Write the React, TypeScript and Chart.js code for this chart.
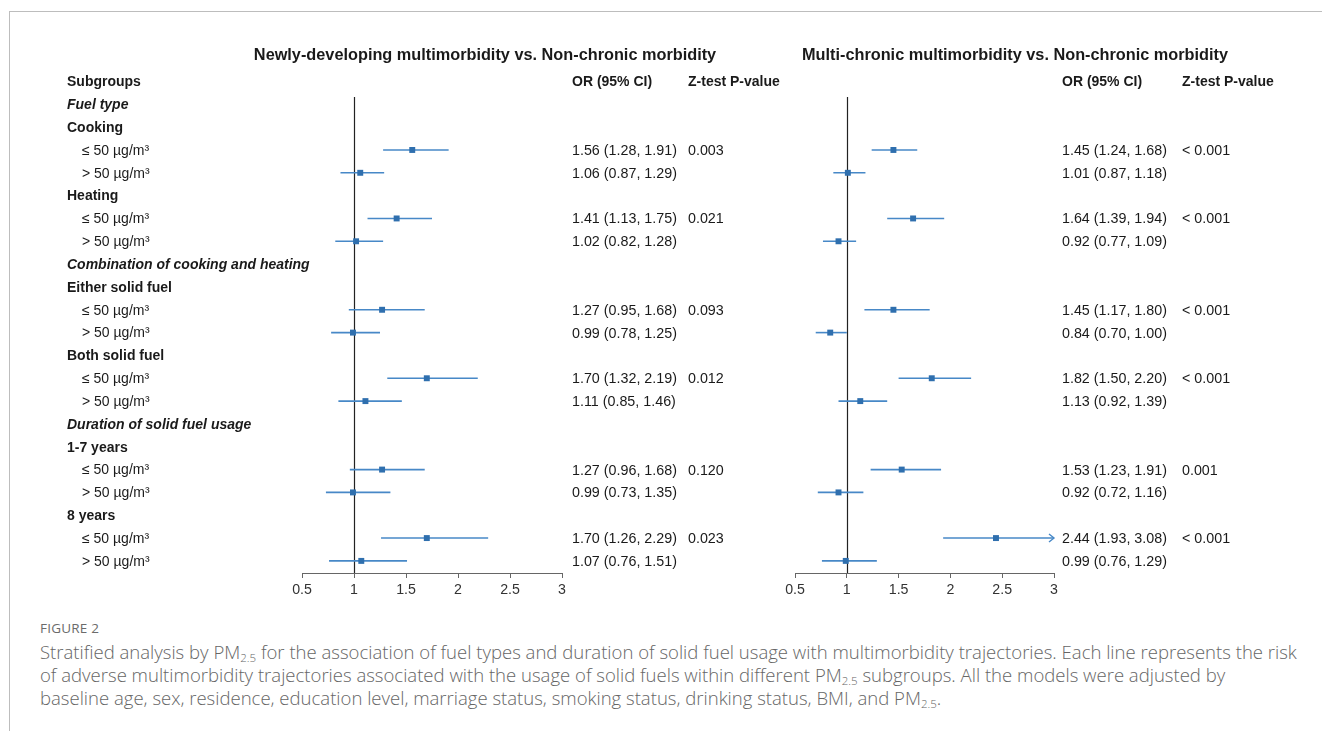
import React, { useEffect, useRef } from 'react';
import { Chart, registerables } from 'chart.js';
Chart.register(...registerables);

// ---------------- DATA ----------------
const rowLabels = [
  'Fuel type', 'Cooking', '≤ 50 µg/m³', '> 50 µg/m³',
  'Heating', '≤ 50 µg/m³', '> 50 µg/m³',
  'Combination of cooking and heating', 'Either solid fuel', '≤ 50 µg/m³', '> 50 µg/m³',
  'Both solid fuel', '≤ 50 µg/m³', '> 50 µg/m³',
  'Duration of solid fuel usage', '1-7 years', '≤ 50 µg/m³', '> 50 µg/m³',
  '8 years', '≤ 50 µg/m³', '> 50 µg/m³',
];
const rowKinds = [
  'section', 'group', 'sub', 'sub',
  'group', 'sub', 'sub',
  'section', 'group', 'sub', 'sub',
  'group', 'sub', 'sub',
  'section', 'group', 'sub', 'sub',
  'group', 'sub', 'sub',
];
// row index (1-based, header row = 0) of each estimate
const estimateRows = [3, 4, 6, 7, 10, 11, 13, 14, 17, 18, 20, 21];

const newlyOR = [1.56, 1.06, 1.41, 1.02, 1.27, 0.99, 1.70, 1.11, 1.27, 0.99, 1.70, 1.07];
const newlyLo = [1.28, 0.87, 1.13, 0.82, 0.95, 0.78, 1.32, 0.85, 0.96, 0.73, 1.26, 0.76];
const newlyHi = [1.91, 1.29, 1.75, 1.28, 1.68, 1.25, 2.19, 1.46, 1.68, 1.35, 2.29, 1.51];
const newlyP = ['0.003', '', '0.021', '', '0.093', '', '0.012', '', '0.120', '', '0.023', ''];

const multiOR = [1.45, 1.01, 1.64, 0.92, 1.45, 0.84, 1.82, 1.13, 1.53, 0.92, 2.44, 0.99];
const multiLo = [1.24, 0.87, 1.39, 0.77, 1.17, 0.70, 1.50, 0.92, 1.23, 0.72, 1.93, 0.76];
const multiHi = [1.68, 1.18, 1.94, 1.09, 1.80, 1.00, 2.20, 1.39, 1.91, 1.16, 3.08, 1.29];
const multiP = ['< 0.001', '', '< 0.001', '', '< 0.001', '', '< 0.001', '', '0.001', '', '< 0.001', ''];

const xTicks = [0.5, 1, 1.5, 2, 2.5, 3];
const xMin = 0.5;
const xMax = 3;

const titleNewly = 'Newly-developing multimorbidity vs. Non-chronic morbidity';
const titleMulti = 'Multi-chronic multimorbidity vs. Non-chronic morbidity';

// ---------------- STYLE ----------------
const FONT = '"Liberation Sans", Arial, Helvetica, sans-serif';
const TEXT = '#1a1a1a';
const MARK = '#2f6fae';
const LINE = '#4788c7';
const W = 1322;
const H = 610;

type Panel = {
  title: string;
  titleX: number;
  left: number;
  right: number;
  orX: number;
  pX: number;
  showLabels: boolean;
  or: number[];
  lo: number[];
  hi: number[];
  p: string[];
};

const panels: Panel[] = [
  { title: titleNewly, titleX: 485, left: 302, right: 562, orX: 572, pX: 688, showLabels: true,
    or: newlyOR, lo: newlyLo, hi: newlyHi, p: newlyP },
  { title: titleMulti, titleX: 1015, left: 795, right: 1054, orX: 1062, pX: 1182, showLabels: false,
    or: multiOR, lo: multiLo, hi: multiHi, p: multiP },
];

function fmt(v: number) {
  return v.toFixed(2);
}

const TEXT_DY = 1;

function PanelChart({ panel }: { panel: Panel }) {
  const ref = useRef<HTMLCanvasElement | null>(null);
  useEffect(() => {
    if (!ref.current) return;
    const ciSets = estimateRows.map((r, i) => ({
      type: 'scatter' as const,
      data: [
        { x: panel.lo[i], y: r },
        { x: Math.min(panel.hi[i], xMax), y: r },
      ],
      showLine: true,
      borderColor: LINE,
      borderWidth: 1.6,
      pointRadius: 0,
      clip: false as any,
    }));
    const markerSet = {
      type: 'scatter' as const,
      data: estimateRows.map((r, i) => ({ x: panel.or[i], y: r })),
      pointStyle: 'rect' as const,
      pointRadius: 4.2,
      pointHoverRadius: 4.2,
      backgroundColor: MARK,
      borderColor: MARK,
      borderWidth: 0,
    };

    const forestPlugin = {
      id: 'forestText',
      beforeDatasetsDraw(chart: any) {
        const { ctx, chartArea } = chart;
        const xs = chart.scales.x;
        const px = Math.round(xs.getPixelForValue(1)) + 0.5;
        ctx.save();
        ctx.strokeStyle = '#222';
        ctx.lineWidth = 1.2;
        ctx.beginPath();
        ctx.moveTo(px, chartArea.top);
        ctx.lineTo(px, chartArea.bottom);
        ctx.stroke();
        ctx.restore();
      },
      afterDraw(chart: any) {
        const { ctx } = chart;
        const xs = chart.scales.x;
        const ys = chart.scales.y;
        ctx.save();
        // arrows for clipped intervals
        estimateRows.forEach((r, i) => {
          if (panel.hi[i] > xMax) {
            const ax = xs.getPixelForValue(xMax);
            const ay = ys.getPixelForValue(r);
            ctx.strokeStyle = LINE;
            ctx.lineWidth = 1.4;
            ctx.beginPath();
            ctx.moveTo(ax - 5, ay - 4);
            ctx.lineTo(ax, ay);
            ctx.lineTo(ax - 5, ay + 4);
            ctx.stroke();
          }
        });
        ctx.fillStyle = TEXT;
        ctx.textBaseline = 'middle';
        // title
        ctx.font = `bold 16.3px ${FONT}`;
        ctx.textAlign = 'center';
        ctx.fillText(panel.title, panel.titleX, 56);
        ctx.textAlign = 'left';
        const headerY = ys.getPixelForValue(0) + TEXT_DY;
        ctx.font = `bold 14px ${FONT}`;
        if (panel.showLabels) ctx.fillText('Subgroups', 67, headerY);
        ctx.fillText('OR (95% CI)', panel.orX, headerY);
        ctx.fillText('Z-test P-value', panel.pX, headerY);
        if (panel.showLabels) {
          rowLabels.forEach((lab, k) => {
            const y = ys.getPixelForValue(k + 1) + TEXT_DY;
            const kind = rowKinds[k];
            if (kind === 'section') {
              ctx.font = `italic bold 14px ${FONT}`;
              ctx.fillText(lab, 67, y);
            } else if (kind === 'group') {
              ctx.font = `bold 14px ${FONT}`;
              ctx.fillText(lab, 67, y);
            } else {
              ctx.font = `14px ${FONT}`;
              ctx.fillText(lab, 82, y);
            }
          });
        }
        ctx.font = `14.3px ${FONT}`;
        estimateRows.forEach((r, i) => {
          const y = ys.getPixelForValue(r) + TEXT_DY;
          ctx.fillText(`${fmt(panel.or[i])} (${fmt(panel.lo[i])}, ${fmt(panel.hi[i])})`, panel.orX, y);
          if (panel.p[i]) ctx.fillText(panel.p[i], panel.pX, y);
        });
        ctx.restore();
      },
    };

    const chart = new Chart(ref.current, {
      type: 'scatter',
      data: { datasets: [markerSet as any, ...ciSets] },
      options: {
        responsive: false,
        animation: false,
        devicePixelRatio: 1,
        layout: {
          padding: { left: panel.left, right: W - panel.right, top: 97, bottom: 7 },
        },
        plugins: { legend: { display: false }, tooltip: { enabled: false } },
        scales: {
          x: {
            type: 'linear',
            min: xMin,
            max: xMax,
            afterBuildTicks: (axis: any) => {
              axis.ticks = xTicks.map((v) => ({ value: v }));
            },
            afterFit: (axis: any) => {
              axis.height = 30;
            },
            grid: { drawOnChartArea: false, drawTicks: true, tickLength: 5, color: '#666' },
            border: { display: true, color: '#666', width: 1 },
            ticks: {
              padding: 4,
              maxRotation: 0,
              autoSkip: false,
              color: '#333',
              font: { family: FONT, size: 14.2 },
              callback: (v: any) => String(v),
            },
          },
          y: {
            type: 'linear',
            display: false,
            reverse: true,
            min: 0.68,
            max: 21.53,
          },
        },
      },
      plugins: [forestPlugin],
    });
    return () => chart.destroy();
  }, [panel]);
  return (
    <canvas
      ref={ref}
      width={W}
      height={H}
      style={{ position: 'absolute', left: 0, top: 0, width: W, height: H }}
    />
  );
}

const capStyle: React.CSSProperties = {
  position: 'absolute',
  left: 40,
  top: 617,
  color: '#666',
  fontFamily: '"Open Sans", "Noto Sans", sans-serif',
  whiteSpace: 'nowrap',
};
const subStyle: React.CSSProperties = { fontSize: 11.5, verticalAlign: '-3px', lineHeight: 0 };

export default function App() {
  return (
    <div style={{ position: 'absolute', left: 0, top: 0, width: W, height: 731, background: '#fff', overflow: 'hidden' }}>
      <div style={{ position: 'absolute', left: 9, top: 11, width: W, height: 731, borderTop: '1px solid #bdbdbd', borderLeft: '1px solid #bdbdbd' }} />
      <PanelChart panel={panels[0]} />
      <PanelChart panel={panels[1]} />
      <div style={capStyle}>
        <div style={{ fontSize: 13.5, lineHeight: '22px', letterSpacing: '0.2px', color: '#6b6b6b' }}>FIGURE 2</div>
        <div style={{ fontSize: 18.55, lineHeight: '23px', fontWeight: 300, marginTop: 1 }}>
          Stratified analysis by PM<sub style={subStyle}>2.5</sub> for the association of fuel types and duration of solid fuel usage with multimorbidity trajectories. Each line represents the risk
          <br />
          of adverse multimorbidity trajectories associated with the usage of solid fuels within different PM<sub style={subStyle}>2.5</sub> subgroups. All the models were adjusted by
          <br />
          baseline age, sex, residence, education level, marriage status, smoking status, drinking status, BMI, and PM<sub style={subStyle}>2.5</sub>.
        </div>
      </div>
    </div>
  );
}
